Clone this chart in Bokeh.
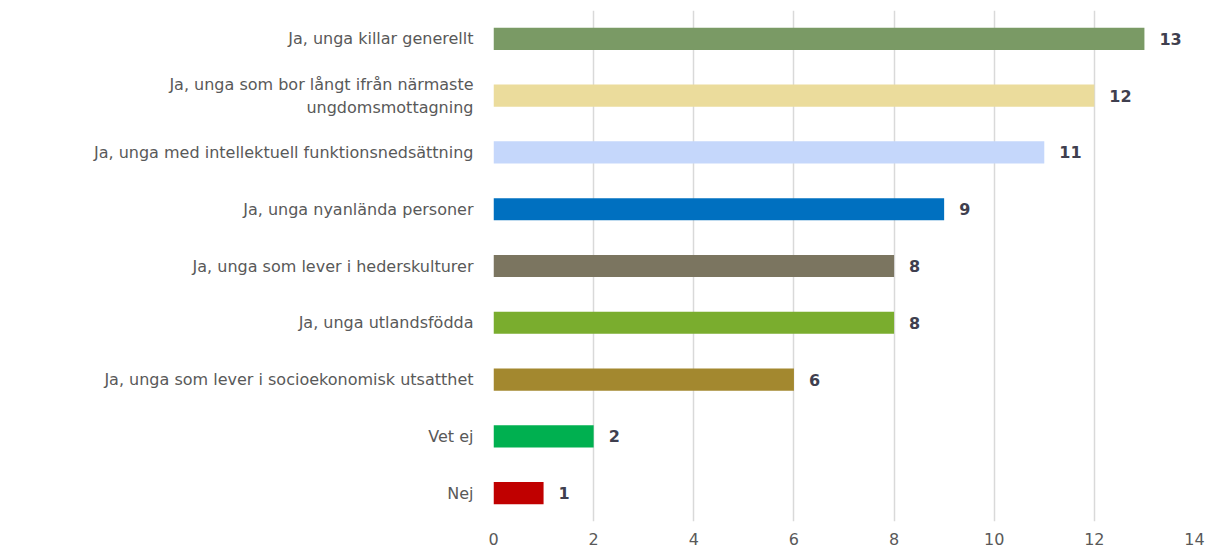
from bokeh.plotting import figure
from bokeh.models import ColumnDataSource, Range1d, FactorRange, FixedTicker
from bokeh.core.properties import value
from bokeh.embed import file_html
from bokeh.resources import INLINE

categories = [
    "Ja, unga killar generellt",
    "Ja, unga som bor långt ifrån närmaste\nungdomsmottagning",
    "Ja, unga med intellektuell funktionsnedsättning",
    "Ja, unga nyanlända personer",
    "Ja, unga som lever i hederskulturer",
    "Ja, unga utlandsfödda",
    "Ja, unga som lever i socioekonomisk utsatthet",
    "Vet ej",
    "Nej",
]
counts = [13, 12, 11, 9, 8, 8, 6, 2, 1]
colors = ["#7a9a65", "#ebdc9c", "#c5d7fb", "#0070c0", "#7b7560",
          "#7aad2e", "#a3882f", "#00b050", "#c00000"]
x_ticks = [0, 2, 4, 6, 8, 10, 12, 14]

FONT = "DejaVu Sans"

source = ColumnDataSource(dict(
    cat=categories,
    count=counts,
    color=colors,
    label=[str(c) for c in counts],
))

p = figure(
    width=1210, height=549,
    y_range=FactorRange(factors=list(reversed(categories)), range_padding=0),
    x_range=Range1d(0, 14),
    output_backend="svg", toolbar_location=None,
    min_border_left=493, min_border_right=16,
    min_border_top=10, min_border_bottom=28,
)
p.outline_line_color = None
p.background_fill_color = "white"
p.border_fill_color = "white"

p.hbar(y="cat", right="count", left=0, height=0.39, color="color",
       line_color=None, source=source)

p.text(x="count", y="cat", text="label", source=source, x_offset=15,
       text_align="left", text_baseline="middle",
       text_font=value(FONT), text_font_size="16px", text_font_style="bold",
       text_color="#3f3f4f")

p.xaxis.ticker = FixedTicker(ticks=x_ticks)
p.xaxis.axis_line_color = None
p.xaxis.major_tick_line_color = None
p.xaxis.minor_tick_line_color = None
p.xaxis.major_label_text_font = FONT
p.xaxis.major_label_text_font_size = "16px"
p.xaxis.major_label_text_color = "#595959"
p.xaxis.major_label_standoff = 5

p.yaxis.axis_line_color = None
p.yaxis.major_tick_line_color = None
p.yaxis.minor_tick_line_color = None
p.yaxis.major_label_text_font = FONT
p.yaxis.major_label_text_font_size = "16px"
p.yaxis.major_label_text_color = "#595959"
p.yaxis.major_label_standoff = 14

p.ygrid.grid_line_color = None
p.xgrid.grid_line_color = "#d9d9d9"
p.xgrid.grid_line_width = 1.5

open("out.html", "w").write(file_html(p, INLINE))
